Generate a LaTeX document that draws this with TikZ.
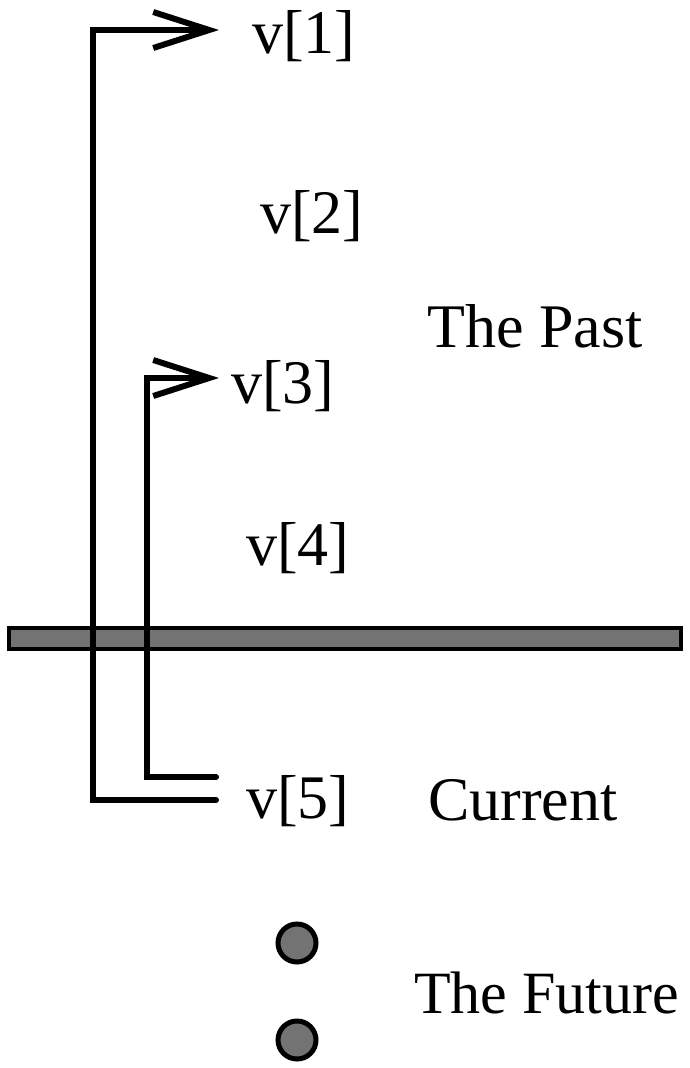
\documentclass[tikz,border=0pt]{standalone}
\usepackage{fontspec}
\setmainfont{Liberation Serif}
\usetikzlibrary{arrows.meta}
\begin{document}
\begin{tikzpicture}[x=1pt,y=-1pt,
  lbl/.style={font=\fontsize{62}{62}\selectfont, inner sep=0pt, anchor=base west},
  conn/.style={line width=6pt, line cap=round, line join=miter},
  arr/.style={conn, -{Straight Barb[length=56pt,width=36pt,line width=6pt]}},
  barbox/.style={draw=black, fill=black!55, line width=4.5pt, minimum width=672pt, minimum height=21pt, inner sep=0pt},
  dotnode/.style={circle, draw=black, fill=black!55, line width=5pt, minimum size=38pt, inner sep=0pt}]
\useasboundingbox (0,0) rectangle (689,1068);
% bar separating past and present
\node[barbox] (bar) at (345,638.5) {};
% labels
\node[lbl] (v1) at (252,53) {v[1]};
\node[lbl] (v2) at (260,233) {v[2]};
\node[lbl] (past) at (427,347) {The Past};
\node[lbl] (v3) at (231,403) {v[3]};
\node[lbl] (v4) at (246,565) {v[4]};
\node[lbl] (v5) at (246,818) {v[5]};
\node[lbl] (cur) at (428,820) {Current};
\node[lbl, font=\fontsize{60}{60}\selectfont] (fut) at (414,1013) {The Future};
% dots
\node[dotnode] (d1) at (297,943) {};
\node[dotnode] (d2) at (297,1040) {};
% connector corners
\coordinate (s1) at (216,800);
\coordinate (b1) at (93,800);
\coordinate (t1) at (93,30);
\coordinate (e1) at (219,30);
\coordinate (s2) at (216,777);
\coordinate (b2) at (147,777);
\coordinate (t2) at (147,378);
\coordinate (e2) at (219,378);
\draw[arr] (s1) -- (b1) -- (t1) -- (e1);
\draw[arr] (s2) -- (b2) -- (t2) -- (e2);
\end{tikzpicture}
\end{document}
